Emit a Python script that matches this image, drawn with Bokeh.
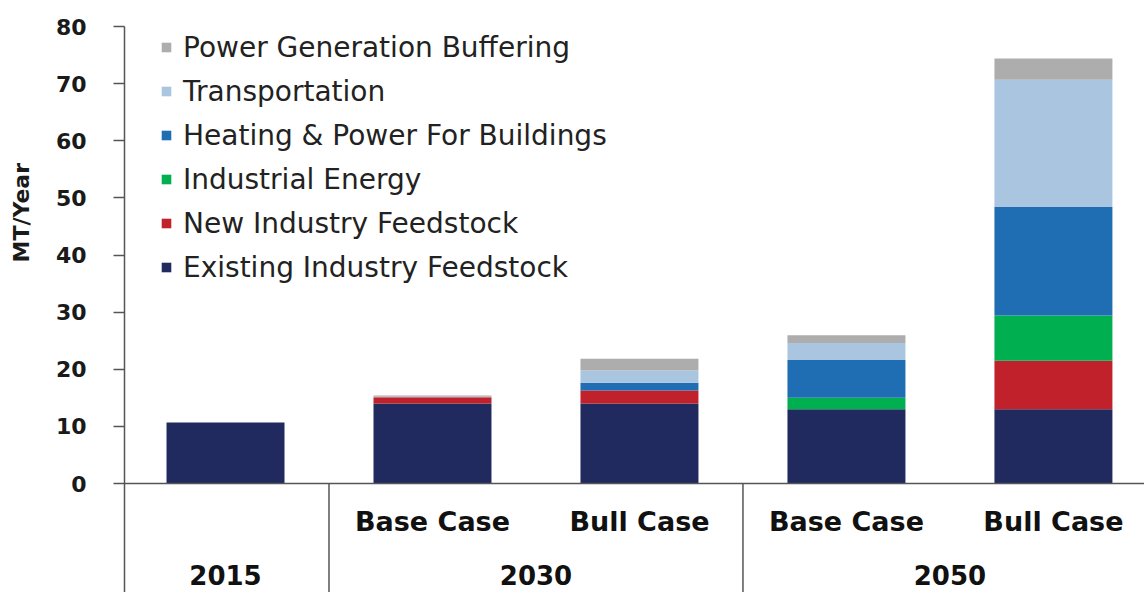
import math
from bokeh.plotting import figure
from bokeh.layouts import row
from bokeh.models import Range1d, FixedTicker, Legend, LegendItem, Span, ColumnDataSource
from bokeh.core.properties import value
from bokeh.embed import file_html
from bokeh.resources import INLINE

# ---- data ----
bar_labels = ["", "Base Case", "Bull Case", "Base Case", "Bull Case"]
group_labels = ["2015", "2030", "2050"]
group_sizes = [1, 2, 2]
y_title = "MT/Year"

series = ["Existing Industry Feedstock", "New Industry Feedstock", "Industrial Energy",
          "Heating & Power For Buildings", "Transportation", "Power Generation Buffering"]
existing = [10.7, 14.0, 14.0, 13.0, 13.0]
new_feed = [0.0, 1.1, 2.3, 0.0, 8.5]
ind_energy = [0.0, 0.0, 0.0, 2.0, 7.9]
heating = [0.0, 0.0, 1.35, 6.6, 19.0]
transport = [0.0, 0.1, 2.15, 3.0, 22.3]
power_buf = [0.0, 0.2, 2.05, 1.35, 3.7]
colors = ["#202a5e", "#c0212b", "#00b050", "#1f6db3", "#a9c5e0", "#adadad"]
y_ticks = [0, 10, 20, 30, 40, 50, 60, 70, 80]

xs = list(range(len(bar_labels)))
src = ColumnDataSource(dict(x=xs, e=existing, n=new_feed, i=ind_energy,
                            h=heating, t=transport, p=power_buf))
keys = ["e", "n", "i", "h", "t", "p"]

YMIN = -19.08
yr = Range1d(YMIN, 80)
TITLE_W = 42

p = figure(width=1144 - TITLE_W, height=592, output_backend="svg", toolbar_location=None,
           x_range=Range1d(-0.488, 4.44), y_range=yr,
           x_axis_type=None, min_border_left=124 - TITLE_W, min_border_right=0,
           min_border_top=26, min_border_bottom=0)
p.outline_line_color = None
p.grid.visible = False
p.background_fill_color = "white"

rs = p.vbar_stack(keys, x="x", width=0.57, source=src, color=colors, line_color=None)

# y axis
ax = p.yaxis[0]
ax.ticker = FixedTicker(ticks=y_ticks)
ax.major_tick_out = 11
ax.major_tick_in = 0
ax.minor_tick_line_color = None
ax.axis_line_color = "#555555"
ax.major_tick_line_color = "#555555"
ax.axis_line_width = 1.5
ax.major_tick_line_width = 1.5
ax.major_label_text_font = "DejaVu Sans"
ax.major_label_text_font_style = "bold"
ax.major_label_text_font_size = "22px"
ax.major_label_text_color = "#1a1a1a"
ax.major_label_standoff = 27

# baseline
p.add_layout(Span(location=0, dimension="width", line_color="#555555", line_width=1.5))

# group separators and labels below the axis
bounds = []
start = 0
centers = []
for s in group_sizes:
    centers.append(start + (s - 1) / 2)
    start += s
    bounds.append(start - 0.5)
sep_x = bounds[:-1]
p.segment(x0=sep_x, y0=[0] * len(sep_x), x1=sep_x, y1=[YMIN] * len(sep_x),
          line_color="#555555", line_width=1.5)

lab_font = value("DejaVu Sans")
p.text(x=xs, y=[-6.7] * len(xs), text=bar_labels, text_font=lab_font,
       text_font_style="bold", text_font_size="27px", text_align="center",
       text_baseline="middle", text_color="#111111")
p.text(x=centers, y=[-16.1] * len(centers), text=group_labels, text_font=lab_font,
       text_font_style="bold", text_font_size="26px", text_align="center",
       text_baseline="middle", text_color="#111111")

# legend (top item = last series)
items = [LegendItem(label=series[k], renderers=[rs[k]]) for k in reversed(range(len(series)))]
leg = Legend(items=items, location=(36, 303), orientation="vertical",
             glyph_width=12, glyph_height=12, label_standoff=11,
             label_text_font="DejaVu Sans", label_text_font_size="28px",
             label_text_color="#222222", label_height=44, spacing=0,
             padding=0, margin=0, border_line_color=None,
             background_fill_alpha=0)
p.add_layout(leg, "center")

# narrow strip holding the rotated y-axis title
t = figure(width=TITLE_W, height=592, output_backend="svg", toolbar_location=None,
           x_range=Range1d(0, TITLE_W), y_range=yr, x_axis_type=None, y_axis_type=None,
           min_border_left=0, min_border_right=0, min_border_top=26, min_border_bottom=0)
t.outline_line_color = None
t.grid.visible = False
t.text(x=[21], y=[47.4], text=[y_title], angle=math.pi / 2, text_font=lab_font,
       text_font_style="bold", text_font_size="22px", text_align="center",
       text_baseline="middle", text_color="#1a1a1a")

layout = row(t, p, spacing=0)
open("out.html", "w").write(file_html(layout, INLINE))
